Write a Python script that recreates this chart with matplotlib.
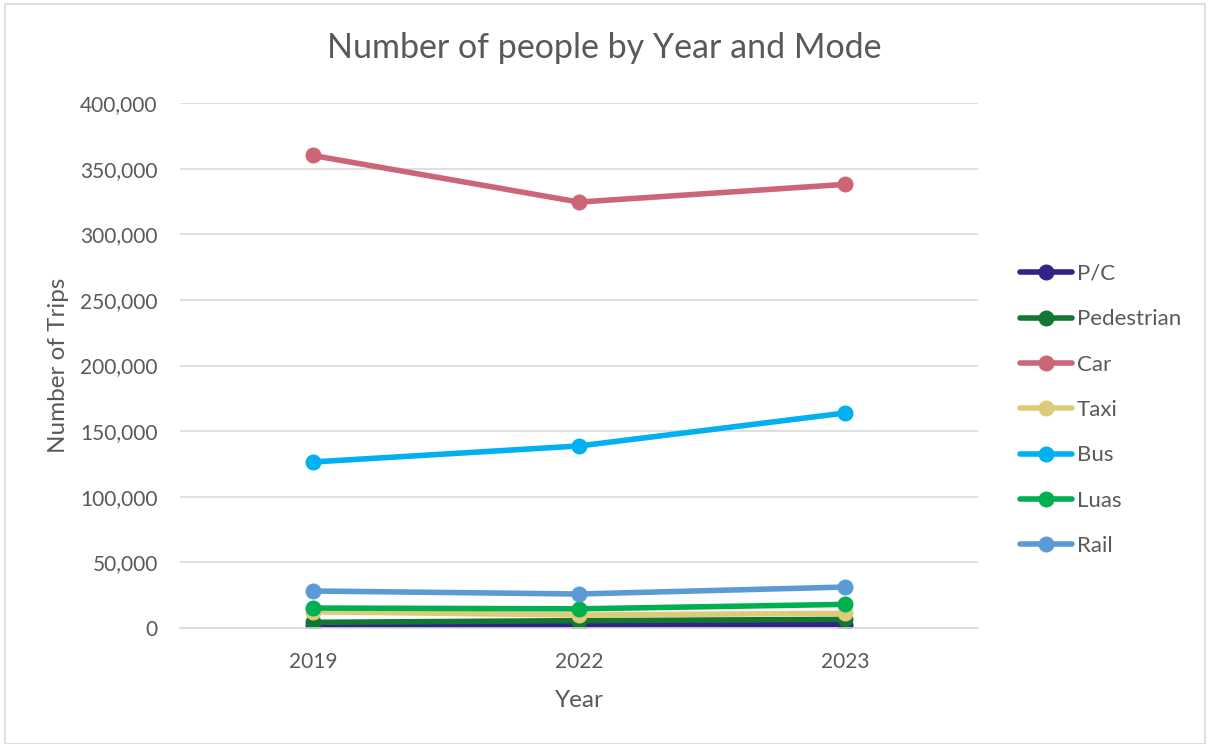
import matplotlib
matplotlib.use("Agg")
import matplotlib.pyplot as plt
from matplotlib.patches import Rectangle
from matplotlib.ticker import FuncFormatter

years = ["2019", "2022", "2023"]
modes = ["P/C", "Pedestrian", "Car", "Taxi", "Bus", "Luas", "Rail"]
pc = [1500, 2300, 2500]
pedestrian = [4300, 5600, 6600]
car = [360000, 324500, 338000]
taxi = [12400, 9900, 11200]
bus = [126500, 138700, 163800]
luas = [15200, 14600, 18000]
rail = [28200, 25900, 31200]
series = [pc, pedestrian, car, taxi, bus, luas, rail]
colors = ["#332288", "#117733", "#CC6677", "#DDCC77", "#00B0F0", "#00B050", "#5B9BD5"]

plt.rcParams["font.family"] = ["Lato", "DejaVu Sans"]
text_color = "#595959"

fig = plt.figure(figsize=(12.08, 7.44), dpi=100)
ax = fig.add_axes([180 / 1208, 1 - 628 / 744, (978 - 180) / 1208, (628 - 103) / 744])

x = list(range(len(years)))
for name, vals, c in zip(modes, series, colors):
    ax.plot(x, vals, color=c, lw=4.0, marker="o", markersize=10.5,
            solid_capstyle="round", label=name)

ax.set_xlim(-0.5, 2.5)
ax.set_ylim(0, 400000)
ax.set_yticks(range(0, 400001, 50000))
ax.yaxis.set_major_formatter(FuncFormatter(lambda v, p: f"{int(v):,}"))
ax.set_xticks(x)
ax.set_xticklabels(years)
ax.grid(axis="y", color="#D9D9D9", lw=1.2)
ax.set_axisbelow(True)
for s in ["top", "right", "left"]:
    ax.spines[s].set_visible(False)
ax.spines["bottom"].set_color("#D9D9D9")
ax.spines["bottom"].set_linewidth(1.2)
ax.tick_params(length=0, labelsize=15, colors=text_color)
ax.tick_params(axis="y", pad=16)
ax.tick_params(axis="x", pad=17)

fig.text(0.5, 1 - 48 / 744, "Number of people by Year and Mode", fontsize=24.5,
         color=text_color, ha="center", va="center")
ax.set_xlabel("Year", fontsize=17.5, color=text_color, labelpad=13)
ax.set_ylabel("Number of Trips", fontsize=17.5, color=text_color, labelpad=8)

leg = fig.legend(loc="center left", bbox_to_anchor=(1000 / 1208, 1 - 410 / 744),
                 frameon=False, fontsize=16, labelcolor=text_color,
                 handlelength=2.35, handletextpad=0.2, labelspacing=1.14)

fig.patches.append(Rectangle((5 / 1208, 0), 1200 / 1208, 1 - 4 / 744,
                             transform=fig.transFigure, fill=False,
                             edgecolor="#D9D9D9", lw=1.2))

fig.savefig("out.png", dpi=100, facecolor="white")
